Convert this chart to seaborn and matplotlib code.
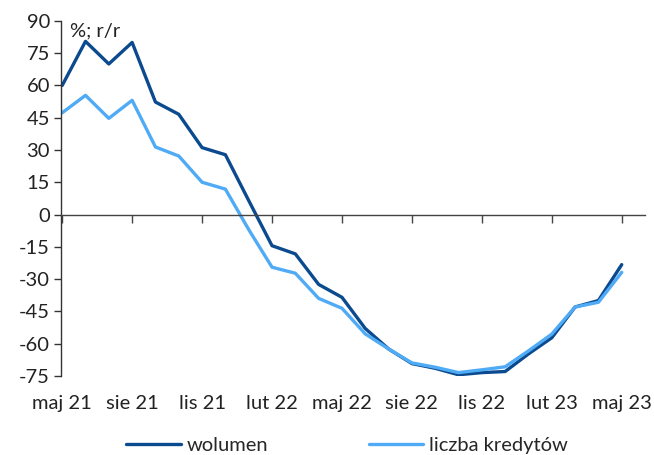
import numpy as np
import pandas as pd
import matplotlib
matplotlib.use("Agg")
import matplotlib.pyplot as plt
import seaborn as sns

months = ["maj 21", "cze 21", "lip 21", "sie 21", "wrz 21", "paź 21", "lis 21", "gru 21",
          "sty 22", "lut 22", "mar 22", "kwi 22", "maj 22", "cze 22", "lip 22", "sie 22",
          "wrz 22", "paź 22", "lis 22", "gru 22", "sty 23", "lut 23", "mar 23", "kwi 23", "maj 23"]
wolumen = [60, 80.5, 70, 80, 52.3, 46.6, 31.1, 27.8,
           6.5, -14.5, -18.3, -32.5, -38.5, -53, -62.5, -69.3,
           -71.5, -74.5, -73.5, -73, -64.8, -57.3, -43, -40, -23.3]
liczba = [47.3, 55.4, 44.7, 53.1, 31.4, 27.2, 15.0, 11.8,
          -7.0, -24.5, -27.3, -39, -43.6, -55.5, -62.5, -69,
          -71, -73.5, -72.2, -70.8, -63.4, -55.6, -43, -40.8, -26.9]
tick_labels = ["maj 21", "sie 21", "lis 21", "lut 22", "maj 22", "sie 22", "lis 22", "lut 23", "maj 23"]
yticks = list(range(-75, 91, 15))

series_names = ["wolumen", "liczba kredytów"]
colors = ["#0B4A8E", "#4FABF5"]

df = pd.DataFrame({
    "x": list(range(len(months))) * 2,
    "val": wolumen + liczba,
    "seria": [series_names[0]] * len(months) + [series_names[1]] * len(months),
})

sns.set_theme(style="white")
plt.rcParams["font.family"] = ["Lato", "DejaVu Sans"]

FS = 14.5
fig = plt.figure(figsize=(6.54, 4.55), dpi=100)
ax = fig.add_axes([0.0933, 0.174, 0.893, 0.780])

sns.lineplot(data=df, x="x", y="val", hue="seria", palette=colors,
             linewidth=2.4, ax=ax, legend=True)

ax.set_ylim(-75, 90)
ax.set_xlim(-0.05, 25.0)
ax.set_yticks(yticks)
ax.set_yticklabels([str(v) for v in yticks], fontsize=FS, color="#222222")
ax.tick_params(axis="y", direction="out", length=5, width=1, color="#333333", left=True, pad=3)

tick_pos = [months.index(m) for m in tick_labels]
ax.spines["bottom"].set_position(("data", 0))
ax.spines["bottom"].set_color("#444444")
ax.spines["bottom"].set_linewidth(1.0)
ax.spines["left"].set_color("#333333")
ax.spines["left"].set_linewidth(1.0)
ax.spines["top"].set_visible(False)
ax.spines["right"].set_visible(False)
ax.set_xticks(tick_pos)
ax.set_xticklabels([])
ax.tick_params(axis="x", direction="out", length=6, width=1, color="#444444", bottom=True)

sec = ax.secondary_xaxis("bottom")
sec.set_xticks(tick_pos)
sec.set_xticklabels(tick_labels, fontsize=FS, color="#222222")
sec.tick_params(axis="x", length=0, pad=14)
sec.spines["bottom"].set_visible(False)

ax.set_xlabel("")
ax.set_ylabel("")
ax.text(0.015, 0.995, "%; r/r", transform=ax.transAxes, fontsize=FS,
        color="#222222", va="top", ha="left")

handles, labels = ax.get_legend_handles_labels()
ax.legend(handles, labels, loc="upper center", bbox_to_anchor=(0.49, -0.12),
          ncol=2, frameon=False, fontsize=FS, handlelength=2.7,
          handletextpad=0.3, columnspacing=5.0)
for line in ax.get_legend().get_lines():
    line.set_linewidth(2.4)

fig.savefig("out.png", dpi=100)
